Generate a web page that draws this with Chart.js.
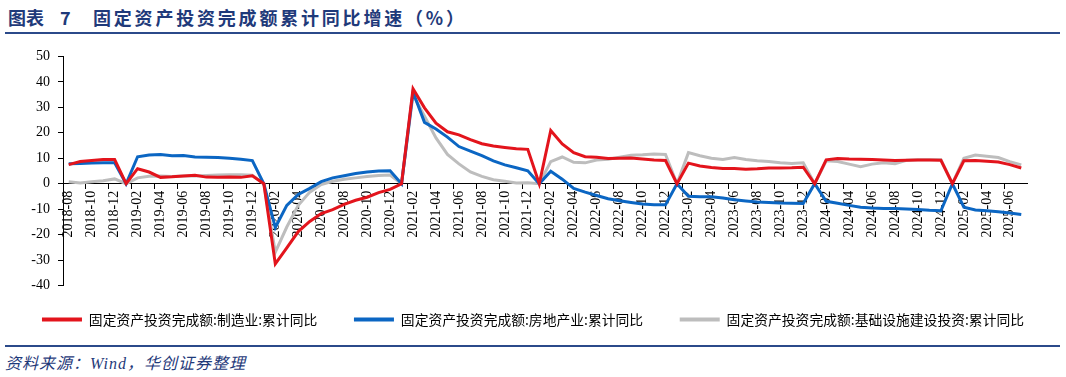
<!DOCTYPE html>
<html>
<head>
<meta charset="utf-8">
<script src="https://cdn.jsdelivr.net/npm/chart.js@4.4.1/dist/chart.umd.min.js"></script>
<style>
  body { margin: 0; width: 1066px; height: 377px; background: #fff; position: relative; overflow: hidden; }
  .title { position: absolute; top: 6px; font-family: "Noto Sans CJK SC", sans-serif; font-weight: 700; font-size: 18px; color: #1F3A7A; white-space: nowrap; line-height: 22px; }
  .rule { position: absolute; left: 5px; width: 1055px; height: 2px; background: #2B4A8A; }
  .source { position: absolute; left: 5px; top: 350px; font-family: "Liberation Serif", "Noto Sans CJK SC", serif; font-style: italic; font-size: 16px; color: #1F3A7A; letter-spacing: 1px; white-space: nowrap; }
  #wrap { position: absolute; left: 0; top: 40px; width: 1066px; height: 300px; }
</style>
</head>
<body>
<div class="title" style="left:8px;">图表</div>
<div class="title" style="left:60px;">7</div>
<div class="title" style="left:93px; letter-spacing:2.8px;">固定资产投资完成额累计同比增速（%）</div>
<div class="rule" style="top:32px;"></div>
<div id="wrap"><canvas id="chart"></canvas></div>
<div class="rule" style="top:345px;"></div>
<div class="source">资料来源：Wind，华创证券整理</div>
<script>
// Months 2018-08 .. 2025-07 (January points are 0 in the source)
const months = [
  '2018-08', '2018-09', '2018-10', '2018-11', '2018-12',
  '2019-01', '2019-02', '2019-03', '2019-04', '2019-05', '2019-06', '2019-07', '2019-08', '2019-09', '2019-10', '2019-11', '2019-12',
  '2020-01', '2020-02', '2020-03', '2020-04', '2020-05', '2020-06', '2020-07', '2020-08', '2020-09', '2020-10', '2020-11', '2020-12',
  '2021-01', '2021-02', '2021-03', '2021-04', '2021-05', '2021-06', '2021-07', '2021-08', '2021-09', '2021-10', '2021-11', '2021-12',
  '2022-01', '2022-02', '2022-03', '2022-04', '2022-05', '2022-06', '2022-07', '2022-08', '2022-09', '2022-10', '2022-11', '2022-12',
  '2023-01', '2023-02', '2023-03', '2023-04', '2023-05', '2023-06', '2023-07', '2023-08', '2023-09', '2023-10', '2023-11', '2023-12',
  '2024-01', '2024-02', '2024-03', '2024-04', '2024-05', '2024-06', '2024-07', '2024-08', '2024-09', '2024-10', '2024-11', '2024-12',
  '2025-01', '2025-02', '2025-03', '2025-04', '2025-05', '2025-06', '2025-07'
];

const manufacturing = [
  7.5, 8.7, 9.1, 9.5, 9.5,
  0, 5.9, 4.6, 2.5, 2.7, 3.0, 3.3, 2.6, 2.5, 2.6, 2.5, 3.1,
  0, -31.5, -25.2, -18.8, -14.8, -11.7, -10.2, -8.1, -6.5, -5.3, -3.5, -2.2,
  0, 37.3, 29.8, 23.8, 20.4, 19.2, 17.3, 15.7, 14.8, 14.2, 13.7, 13.5,
  0, 20.9, 15.6, 12.2, 10.6, 10.4, 9.9, 10.0, 10.1, 9.7, 9.3, 9.1,
  0, 8.1, 7.0, 6.4, 6.0, 6.0, 5.7, 5.9, 6.2, 6.2, 6.3, 6.5,
  0, 9.4, 9.9, 9.7, 9.6, 9.5, 9.3, 9.1, 9.2, 9.3, 9.3, 9.2,
  0, 9.0, 9.1, 8.8, 8.5, 7.5, 6.2
];

const realEstate = [
  7.8, 7.9, 8.1, 8.2, 8.2,
  0, 10.6, 11.3, 11.5, 11.0, 11.1, 10.5, 10.4, 10.3, 10.0, 9.6, 9.1,
  0, -17.2, -8.5, -4.2, -1.8, 0.8, 2.3, 3.1, 4.0, 4.6, 5.0, 5.1,
  0, 36.0, 24.1, 21.5, 18.3, 14.6, 12.8, 11.0, 9.0, 7.4, 6.3, 5.1,
  0, 4.9, 1.8, -1.8, -3.3, -4.6, -5.9, -6.7, -7.4, -8.0, -8.3, -8.3,
  0, -4.9, -5.1, -5.1, -5.6, -6.3, -6.8, -7.2, -7.4, -7.6, -7.7, -7.8,
  0, -6.9, -7.7, -8.5, -9.2, -9.5, -9.7, -9.7, -9.9, -10.1, -10.4, -10.6,
  0, -9.2, -10.3, -10.6, -11.0, -11.5, -12.1
];

const infrastructure = [
  0.8, 0.3, 0.8, 1.2, 1.9,
  0, 2.3, 2.9, 3.0, 2.8, 3.0, 3.0, 3.2, 3.4, 3.5, 3.5, 3.3,
  0, -26.9, -17.0, -8.5, -3.3, -0.3, 1.0, 1.8, 2.3, 2.8, 3.2, 3.4,
  0, 35.0, 26.5, 18.0, 11.5, 7.8, 4.6, 2.9, 1.6, 1.0, 0.3, 0.4,
  0, 8.7, 10.5, 8.4, 8.2, 9.3, 9.6, 10.4, 11.2, 11.4, 11.7, 11.5,
  0, 12.2, 11.0, 10.0, 9.5, 10.3, 9.5, 9.0, 8.7, 8.2, 7.9, 8.2,
  0, 9.0, 8.7, 7.7, 6.7, 7.7, 8.2, 7.9, 9.2, 9.4, 9.4, 9.4,
  0, 10.0, 11.3, 10.8, 10.3, 8.7, 7.4
];

const seriesNames = [
  '固定资产投资完成额:制造业:累计同比',
  '固定资产投资完成额:房地产业:累计同比',
  '固定资产投资完成额:基础设施建设投资:累计同比'
];
const seriesColors = ['#E3141C', '#0B66C3', '#BDBDBD'];
const yTicks = { min: -40, max: 50, step: 10 };

const serif = '"Liberation Serif", "Times New Roman", serif';

function makeSet(i, data) {
  return {
    label: seriesNames[i],
    data: data,
    borderColor: seriesColors[i],
    backgroundColor: seriesColors[i],
    borderWidth: 3,
    pointRadius: 0,
    tension: 0
  };
}

const ctx = document.getElementById('chart').getContext('2d');
new Chart(ctx, {
  type: 'line',
  data: {
    labels: months,
    datasets: [
      makeSet(0, manufacturing),
      makeSet(1, realEstate),
      makeSet(2, infrastructure)
    ]
  },
  options: {
    responsive: true,
    maintainAspectRatio: false,
    animation: false,
    layout: { padding: { top: 12, left: 0, right: 0, bottom: 3.6 } },
    plugins: {
      tooltip: { enabled: false },
      legend: {
        position: 'bottom',
        labels: {
          color: '#000',
          font: { family: '"Noto Sans CJK SC", sans-serif', size: 13.8 },
          boxWidth: 40,
          boxHeight: 4,
          padding: 27,
          generateLabels: (chart) => {
            const items = Chart.defaults.plugins.legend.labels.generateLabels(chart);
            return items.map((item, i) => Object.assign(item, {
              text: i < items.length - 1 ? item.text + '\u2002\u2009' : item.text,
              lineWidth: 0,
              fillStyle: seriesColors[i]
            }));
          }
        }
      }
    },
    scales: {
      x: {
        position: { y: 0 },
        offset: true,
        grid: {
          offset: true,
          drawOnChartArea: false,
          tickLength: 5,
          tickColor: (c) => (c.index % 2 === 0 ? '#000' : 'rgba(0,0,0,0)')
        },
        border: { color: '#000', width: 1 },
        ticks: {
          autoSkip: false,
          minRotation: 90,
          maxRotation: 90,
          padding: 2,
          color: '#000',
          font: { family: serif, size: 14 },
          callback: (v, i) => (i % 2 === 0 ? months[i] : '')
        }
      },
      y: {
        min: yTicks.min,
        max: yTicks.max,
        afterFit: (scale) => { scale.width = 63; },
        grid: { drawOnChartArea: false, tickLength: 5, tickColor: '#000' },
        border: { color: '#000', width: 1 },
        ticks: {
          stepSize: yTicks.step,
          padding: 8,
          color: '#000',
          font: { family: serif, size: 14 }
        }
      },
      // empty right-hand axis: only reserves the blank margin right of the plot
      yRight: {
        position: 'right',
        min: yTicks.min,
        max: yTicks.max,
        afterFit: (scale) => { scale.width = 39; },
        grid: { display: false },
        border: { display: false },
        ticks: { display: false }
      }
    }
  }
});
</script>
</body>
</html>
